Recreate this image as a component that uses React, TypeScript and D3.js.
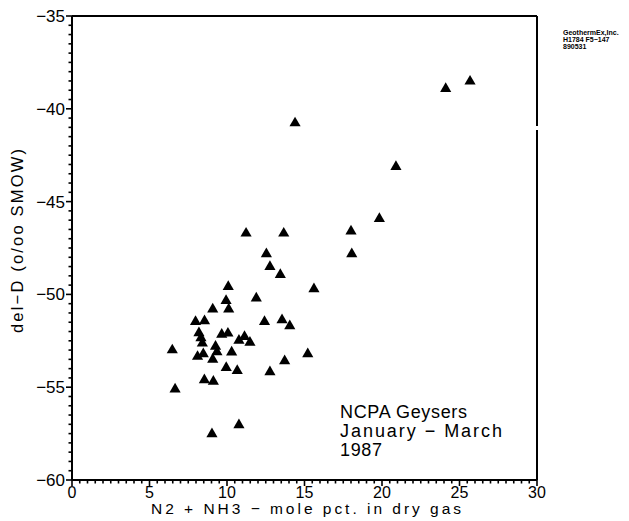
import React from "react";
import * as d3 from "d3";

const xVals: number[] = [
  25.68, 24.11, 14.39, 20.9, 19.83, 18.0, 18.05, 15.61, 11.23, 13.66,
  12.54, 12.77, 13.44, 10.08, 11.89, 9.94, 9.08, 10.11, 7.97, 8.55,
  12.42, 13.55, 14.05, 8.19, 8.32, 8.41, 9.66, 10.06, 10.77, 11.13,
  11.48, 6.47, 9.26, 9.35, 10.3, 8.1, 8.47, 9.08, 15.21, 13.72,
  9.95, 10.66, 12.77, 8.54, 9.12, 6.65, 9.03, 10.77,
];
const yVals: number[] = [
  -38.52, -38.92, -40.77, -43.12, -45.92, -46.6, -47.82, -49.71, -46.71, -46.71,
  -47.82, -48.51, -48.94, -49.59, -50.21, -50.34, -50.8, -50.8, -51.47, -51.43,
  -51.47, -51.38, -51.7, -52.08, -52.35, -52.64, -52.16, -52.1, -52.48, -52.28,
  -52.59, -53.0, -52.81, -53.1, -53.12, -53.35, -53.21, -53.51, -53.21, -53.59,
  -53.95, -54.11, -54.18, -54.61, -54.69, -55.11, -57.52, -57.04,
];
const xTicks: number[] = [0, 5, 10, 15, 20, 25, 30];
const yTicks: number[] = [-35, -40, -45, -50, -55, -60];
const noteLines: string[] = ["NCPA Geysers", "January \u2212 March", "1987"];
const stampLines: string[] = ["GeothermEx,Inc.", "H1784  F5\u2212147", "890531"];

export default function App() {
  const left = 72, right = 537, top = 16, bottom = 480;
  const x = d3.scaleLinear().domain([0, 30]).range([left, right]);
  const y = d3.scaleLinear().domain([-60, -35]).range([bottom, top]);
  const tri = d3.symbol().type(d3.symbolTriangle).size(54)();
  const xMinor = d3.range(0, 30.01, 0.5);
  const yMinor = d3.range(-60, -34.99, 0.5);
  const font = "'Liberation Sans', Arial, sans-serif";
  const fmt = (v: number) => (v < 0 ? "\u2212" + Math.abs(v) : String(v));
  const noteW = [127, 162, 42];
  return (
    <svg width={629} height={521} style={{ position: "fixed", left: 0, top: 0, background: "#fff" }}
      fontFamily={font}>
      <rect x={0} y={0} width={629} height={521} fill="#fff" />
      <line x1={left} y1={top} x2={right} y2={top} stroke="#000" strokeWidth={2} />
      <line x1={left} y1={bottom} x2={right} y2={bottom} stroke="#000" strokeWidth={2} />
      <line x1={left} y1={top} x2={left} y2={bottom} stroke="#000" strokeWidth={2} />
      <line x1={right} y1={top} x2={right} y2={126} stroke="#000" strokeWidth={2} />
      <line x1={right} y1={130} x2={right} y2={bottom} stroke="#000" strokeWidth={2} />
      {xMinor.map((v, i) => (
        <line key={"xm" + i} x1={x(v)} x2={x(v)} y1={bottom} y2={bottom + (v % 5 === 0 ? 6 : 3.5)}
          stroke="#000" strokeWidth={1.6} />
      ))}
      {yMinor.map((v, i) => (
        <line key={"ym" + i} y1={y(v)} y2={y(v)} x1={left} x2={left - (v % 5 === 0 ? 6 : 3.5)}
          stroke="#000" strokeWidth={1.6} />
      ))}
      {xTicks.map((v) => (
        <text key={"xt" + v} x={x(v)} y={498} textAnchor="middle" fontSize={16}>{fmt(v)}</text>
      ))}
      {yTicks.map((v) => (
        <text key={"yt" + v} x={65} y={y(v) + 6} textAnchor="end" fontSize={17}>{fmt(v)}</text>
      ))}
      <text x={306} y={514} textAnchor="middle" fontSize={15.5} textLength={310} lengthAdjust="spacing">
        N2 + NH3 {"\u2212"} mole pct. in dry gas
      </text>
      <text transform="translate(23,241) rotate(-90)" textAnchor="middle" fontSize={16.5}
        textLength={184} lengthAdjust="spacing">
        del{"\u2212"}D (o/oo SMOW)
      </text>
      {xVals.map((xv, i) => (
        <path key={"p" + i} d={tri} transform={`translate(${x(xv)},${y(yVals[i])})`} fill="#000" />
      ))}
      {noteLines.map((t, i) => (
        <text key={"n" + i} x={340} y={418 + i * 19} fontSize={18} textLength={noteW[i]}
          lengthAdjust="spacing">{t}</text>
      ))}
      {stampLines.map((t, i) => (
        <text key={"s" + i} x={563} y={35 + i * 7} fontSize={7} fontWeight="bold">{t}</text>
      ))}
    </svg>
  );
}
